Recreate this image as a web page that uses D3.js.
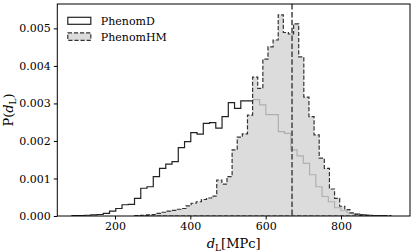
<!DOCTYPE html>
<html>
<head>
<meta charset="utf-8">
<script src="https://cdn.jsdelivr.net/npm/d3@7"></script>
<style>
  body { margin: 0; background: #fff; }
  svg text { font-family: "DejaVu Serif", serif; fill: #000; }
</style>
</head>
<body>
<div id="chart"></div>
<script>
// histogram densities, 50 bins each
var dStart = 85.8, dWidth = 16.6;
var dDensity = [0.00001, 0.00001, 0.00002, 0.00003, 0.00004, 0.00007, 0.00013, 0.0002, 0.0003, 0.00031,
    0.00047, 0.00074, 0.00078, 0.00105, 0.00127, 0.00138, 0.00145, 0.00182, 0.00198, 0.00222,
    0.00218, 0.00247, 0.00249, 0.00234, 0.00265, 0.00302, 0.00287, 0.00307, 0.00307, 0.0031,
    0.00296, 0.0027, 0.0027, 0.00225, 0.0022, 0.00176, 0.0016, 0.0014, 0.0011, 0.00078,
    0.00052, 0.00038, 0.00022, 0.00014, 0.00008, 0.00005, 0.00003, 0.00002, 0.00001, 0.00001];

var hmStart = 252.5, hmWidth = 13.6;
var hmDensity = [0.00001, 0.00002, 0.00003, 0.00004, 0.00007, 0.0001, 0.00013, 0.00015, 0.00018, 0.0002,
    0.00027, 0.00034, 0.00038, 0.00044, 0.00048, 0.00053, 0.00096, 0.00085, 0.00105, 0.00176,
    0.0021, 0.00219, 0.00269, 0.0037, 0.0034, 0.00418, 0.00451, 0.00469, 0.00536, 0.00489,
    0.00485, 0.00512, 0.00424, 0.00317, 0.00265, 0.00216, 0.00154, 0.00127, 0.00072, 0.00047,
    0.00026, 0.00017, 0.00008, 0.00004, 0.00003, 0.00002, 0.00001, 0.00001, 0.00001, 0.00001];

var injected = 670;
var xTicks = [200, 400, 600, 800];
var yTicks = [0, 0.001, 0.002, 0.003, 0.004, 0.005];
var seriesNames = ["PhenomD", "PhenomHM"];

var W = 415, H = 252,
    margin = { top: 4, left: 57.3, right: 5, bottom: 36 },
    chartWidth = W - margin.left - margin.right,
    chartHeight = H - margin.top - margin.bottom;

var x = d3.scaleLinear().domain([46.8, 983.2]).range([0, chartWidth]);
var y = d3.scaleLinear().domain([0, 0.00565]).range([chartHeight, 0]);

var svg = d3.select("#chart").append("svg")
    .attr("width", W)
    .attr("height", H);

var g = svg.append("g")
    .attr("transform", "translate(" + margin.left + "," + margin.top + ")");

g.append("clipPath").attr("id", "clip")
    .append("rect").attr("width", chartWidth).attr("height", chartHeight);

// turn densities into step outline points
function stepPoints(start, width, vals) {
    var pts = [[start, 0]];
    vals.forEach(function(v, i) {
        pts.push([start + i * width, v]);
        pts.push([start + (i + 1) * width, v]);
    });
    pts.push([start + vals.length * width, 0]);
    return pts;
}

var line = d3.line()
    .x(function(d) { return x(d[0]); })
    .y(function(d) { return y(d[1]); });

var plot = g.append("g").attr("clip-path", "url(#clip)");

plot.append("path")
    .datum(stepPoints(dStart, dWidth, dDensity))
    .attr("d", line)
    .attr("fill", "none")
    .attr("stroke", "#222")
    .attr("stroke-width", 1.2);

plot.append("path")
    .datum(stepPoints(hmStart, hmWidth, hmDensity))
    .attr("d", function(d) { return line(d) + "Z"; })
    .attr("fill", "#d3d3d3")
    .attr("fill-opacity", 0.8)
    .attr("stroke", "#333")
    .attr("stroke-width", 1.2)
    .attr("stroke-dasharray", "4.2,1.9");

plot.append("line")
    .attr("x1", x(injected)).attr("x2", x(injected))
    .attr("y1", 0).attr("y2", chartHeight)
    .attr("stroke", "#444")
    .attr("stroke-width", 1.5)
    .attr("stroke-dasharray", "5.5,2.4");

// axes
var xAxis = g.append("g")
    .attr("transform", "translate(0," + chartHeight + ")")
    .call(d3.axisBottom(x).tickValues(xTicks).tickSize(3.5).tickPadding(3).tickFormat(d3.format("d")));
var yAxis = g.append("g")
    .call(d3.axisLeft(y).tickValues(yTicks).tickSize(3.5).tickPadding(3).tickFormat(d3.format(".3f")));

[xAxis, yAxis].forEach(function(a) {
    a.select(".domain").remove();
    a.selectAll(".tick line").attr("stroke", "#000").attr("stroke-width", 1);
    a.selectAll(".tick text").style("font-size", "11px").style("font-family", "DejaVu Serif");
});

g.append("rect")
    .attr("width", chartWidth)
    .attr("height", chartHeight)
    .attr("fill", "none")
    .attr("stroke", "#000")
    .attr("stroke-width", 1);

// legend
var legend = g.append("g").attr("transform", "translate(10.5,13.3)");
legend.append("rect")
    .attr("x", 0).attr("y", 0).attr("width", 23).attr("height", 7)
    .attr("fill", "none").attr("stroke", "#222").attr("stroke-width", 1.2);
legend.append("rect")
    .attr("x", 0).attr("y", 15.5).attr("width", 23).attr("height", 7.5)
    .attr("fill", "#d3d3d3").attr("fill-opacity", 0.8)
    .attr("stroke", "#333").attr("stroke-width", 1.2).attr("stroke-dasharray", "4.2,1.9");
legend.selectAll("text.leg")
    .data(seriesNames)
    .enter().append("text")
    .attr("class", "leg")
    .attr("x", 33)
    .attr("y", function(d, i) { return 7.5 + i * 16.5; })
    .style("font-size", "11px")
    .text(function(d) { return d; });

// axis labels
var xl = svg.append("text")
    .attr("x", margin.left + chartWidth / 2)
    .attr("y", 248)
    .attr("text-anchor", "middle")
    .style("font-size", "13px");
xl.append("tspan").attr("font-style", "italic").text("d");
xl.append("tspan").attr("dy", 3).style("font-size", "9px").text("L");
xl.append("tspan").attr("dy", -3).text("[MPc]");

var yl = svg.append("text")
    .attr("transform", "translate(13," + (margin.top + chartHeight / 2) + ") rotate(-90)")
    .attr("text-anchor", "middle")
    .style("font-size", "13px");
yl.append("tspan").text("P(");
yl.append("tspan").attr("font-style", "italic").text("d");
yl.append("tspan").attr("dy", 3).style("font-size", "9px").text("L");
yl.append("tspan").attr("dy", -3).text(")");
</script>
</body>
</html>
